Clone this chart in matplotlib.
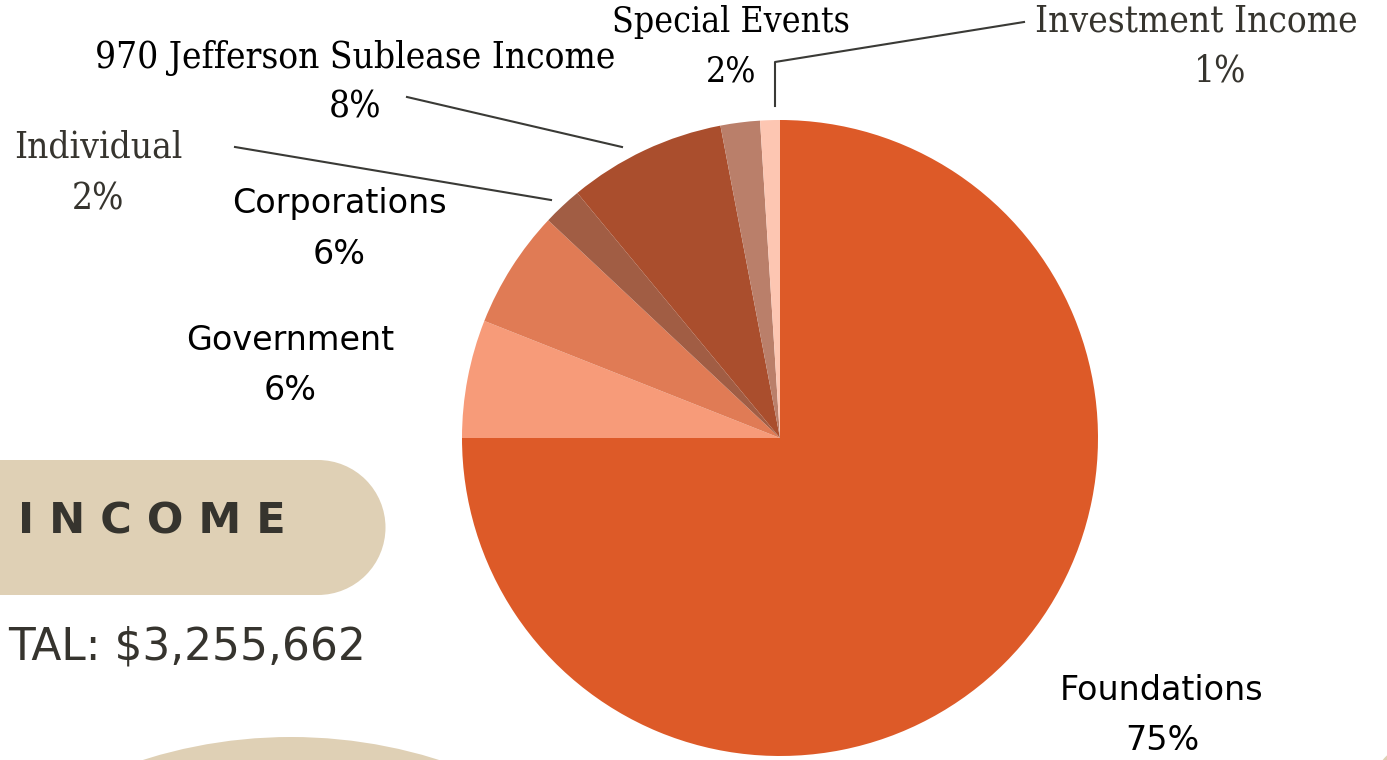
import numpy as np
import matplotlib
matplotlib.use("Agg")
import matplotlib.pyplot as plt
from matplotlib.patches import Rectangle, Circle

# Income sources (percent of total)
categories = ["Foundations", "Government", "Corporations", "Individual",
              "970 Jefferson Sublease Income", "Special Events", "Investment Income"]
values = [75, 6, 6, 2, 8, 2, 1]
colours = ["#DD5A28", "#F79B79", "#E07B55", "#A15D44", "#AA4E2D", "#BA7F6A", "#FDC6B2"]
total_text = "TAL: $3,255,662"   # the reference crops "TO" off the left edge

W, H = 1387, 760
fig = plt.figure(figsize=(W / 100, H / 100), dpi=100)
ax = fig.add_axes([0, 0, 1, 1])


def Y(y):
    # picture rows run downwards
    return H - y


beige = "#DFD0B5"
dark = "#36342E"

# decorative shapes
ax.add_patch(Rectangle((-50, Y(595)), 50 + 318, 135, color=beige, lw=0))
ax.add_patch(Circle((318, Y(527.5)), 67.5, color=beige, lw=0))
ax.add_patch(Circle((291, Y(737 + 490)), 490, color=beige, lw=0))
ax.add_patch(Circle((1430, Y(800)), 62, color=beige, lw=0))

# pie
ax.pie(values, colors=colours, startangle=90, counterclock=False,
       center=(780, Y(438)), radius=318, frame=True,
       wedgeprops=dict(linewidth=0))
ax.set_xlim(0, W)
ax.set_ylim(0, H)
ax.set_aspect("equal")
ax.axis("off")

sans = ["DejaVu Sans"]
slab = ["DejaVu Serif"]

labels = [
    # name, pct, x, y_name, y_pct, family, colour
    ("Foundations", 0, 1162, 691, 740, sans, "black"),
    ("Government", 1, 290, 341, 390, sans, "black"),
    ("Corporations", 2, 339, 204, 254, sans, "black"),
    ("Individual", 3, 98, 147, 200, slab, dark),
    ("970 Jefferson Sublease Income", 4, 355, 58, 107, slab, "black"),
    ("Special Events", 5, 731, 22, 72, slab, "black"),
    ("Investment Income", 6, 1196, 22, 72, slab, dark),
]
for name, i, x, yn, yp, fam, col in labels:
    if fam is sans:
        ax.text(x, Y(yn), categories[i], ha="center", va="center",
                fontsize=24, family=fam, color=col)
        ax.text(x, Y(yp), f"{values[i]}%", ha="center", va="center",
                fontsize=24, family=fam, color=col)
    else:
        size = 25.5 if i == 5 else 26.5
        ax.text(x, Y(yn), categories[i], ha="center", va="center",
                fontsize=size, family=fam, color=col, stretch="condensed")
        px = 1220 if i == 6 else x
        ax.text(px, Y(yp), f"{values[i]}%", ha="center", va="center",
                fontsize=size, family=fam, color=col, stretch="condensed")

# leader lines
lc = "#3A3A36"
ax.plot([407, 622], [Y(97), Y(147)], color=lc, lw=1.5)
ax.plot([235, 551], [Y(147), Y(200)], color=lc, lw=1.5)
ax.plot([775, 775, 1024], [Y(106), Y(62), Y(22)], color=lc, lw=1.5)

# title box text
ax.text(18, Y(522), "I N C O M E", ha="left", va="center", fontsize=31,
        fontweight="bold", family=sans, color=dark)
ax.text(366, Y(647), total_text, ha="right", va="center", fontsize=31.6,
        family=sans, color=dark)

fig.savefig("out.png", dpi=100)
